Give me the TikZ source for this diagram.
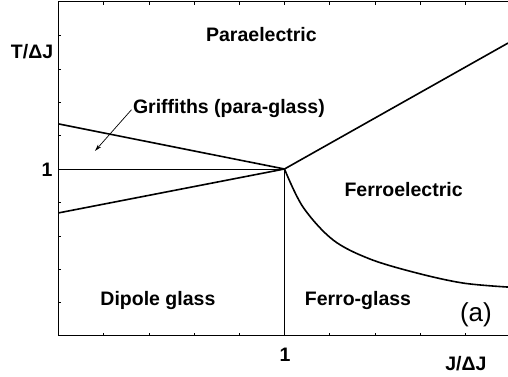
\documentclass[tikz,border=0pt]{standalone}
\usepackage{fontspec}
\setmainfont{Liberation Sans}
\usepackage{tikz}
\usetikzlibrary{arrows.meta}

\begin{document}
\begin{tikzpicture}[x=226pt,y=167pt,
  lbl/.style={inner sep=0pt,anchor=base,font=\fontsize{19.5}{22}\selectfont\bfseries},
  phase/.style={line width=1.6pt,line join=round},
  guide/.style={line width=0.8pt}]
\useasboundingbox (-0.2588,-0.2455) rectangle (1.989,2.012);
% frame and ticks
\draw[line width=1pt] (1.989,2) -- (0,2) -- (0,0) -- (1.989,0);
\foreach \i in {0.2,0.4,...,1.9} {
  \draw[line width=0.5pt] (\i,0) -- ++(0,3pt);
  \draw[line width=0.5pt] (\i,2) -- ++(0,-3pt);
}
\foreach \j in {0.2,0.4,...,1.9}
  \draw[line width=0.5pt] (0,\j) -- ++(3pt,0);
% phase boundaries
\coordinate (tc) at (1,1);
\draw[guide] (0,1) -- (tc);
\draw[guide] (tc) -- (1,0);
\draw[phase] (0,1.27) -- (tc);
\draw[phase] (0,0.737) -- (tc);
\draw[phase] (tc) -- (1.989,1.754);
\draw[phase] plot[smooth,tension=0.55] coordinates {(1,1) (1.082,0.772) (1.215,0.575) (1.378,0.461) (1.586,0.377) (1.79,0.317) (1.989,0.293)};
% labels
\node[lbl] (para) at (0.898,1.763) {Paraelectric};
\node[lbl] (ylab) at (-0.117,1.659) {T/ΔJ};
\node[lbl] (yone) at (-0.051,0.955) {1};
\node[lbl] (griffiths) at (0.754,1.334) {Griffiths (para-glass)};
\node[lbl] (ferro) at (1.527,0.838) {Ferroelectric};
\node[lbl] (dipole) at (0.440,0.182) {Dipole glass};
\node[lbl] (fglass) at (1.325,0.180) {Ferro-glass};
\node[inner sep=0pt,anchor=base,font=\fontsize{26}{30}\selectfont] (panel) at (1.847,0.086) {(a)};
\node[lbl] (xone) at (1.002,-0.150) {1};
\node[lbl] (xlab) at (1.803,-0.208) {J/ΔJ};
\coordinate (gtip) at (0.1615,1.108);
\draw[line width=0.7pt,-{Stealth[length=7pt,width=4pt]},shorten <=2pt] (griffiths.west) -- (gtip);
\end{tikzpicture}
\end{document}
